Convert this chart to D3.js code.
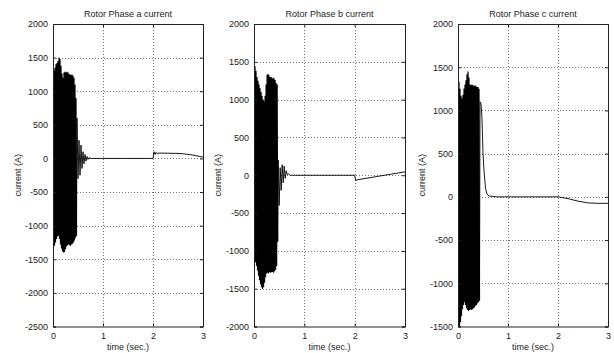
<!DOCTYPE html>
<html>
<head>
<meta charset="utf-8">
<script src="https://cdn.jsdelivr.net/npm/d3@7"></script>
<style>
  body { margin: 0; background: #fff; }
  svg { display: block; font-family: "Liberation Sans", Arial, sans-serif; }
</style>
</head>
<body>
<svg id="chart" width="614" height="353"></svg>
<script>
// ---- data ----
const titles = ['Rotor Phase a current', 'Rotor Phase b current', 'Rotor Phase c current'];
const xTicks = [0, 1, 2, 3];
const yTicksA = [-2500, -2000, -1500, -1000, -500, 0, 500, 1000, 1500, 2000];
const yTicksB = [-2000, -1500, -1000, -500, 0, 500, 1000, 1500, 2000];
const yTicksC = [-1500, -1000, -500, 0, 500, 1000, 1500, 2000];

// start-up burst: successive peaks, one every burstStep seconds
const burstStep = 0.01;
const burstA = [
  1200, -1320, 1300, -1300, 1350, -1250, 1400, -1200, 1420, -1160,
  1450, -1150, 1500, -1200, 1480, -1280, 1380, -1340, 1260, -1380,
  1200, -1400, 1280, -1390, 1290, -1350, 1280, -1310, 1290, -1290,
  1280, -1280, 1260, -1290, 1250, -1300, 1240, -1280, 1250, -1270,
  1230, -1250, 1200, -1220, 1100, -1180, 900, -1150,
];
const burstB = [
  1480, -1090, 1440, -1150, 1380, -1200, 1300, -1260, 1250, -1330,
  1200, -1390, 1150, -1440, 1100, -1480, 1050, -1500, 1000, -1480,
  980, -1420, 1050, -1350, 1200, -1300, 1330, -1290, 1340, -1300,
  1320, -1280, 1300, -1290, 1300, -1280, 1280, -1280, 1290, -1290,
  1280, -1270, 1260, -1250, 1220, -1200, 1200, -880,
];
const burstC = [
  1350, -1260, 1330, -1510, 1250, -1450, 1170, -1380, 1140, -1300,
  1180, -1250, 1250, -1220, 1300, -1250, 1350, -1290, 1420, -1310,
  1450, -1320, 1380, -1310, 1300, -1300, 1290, -1310, 1300, -1300,
  1290, -1290, 1280, -1280, 1290, -1260, 1280, -1250, 1270, -1230,
  1270, -1220, 1250, -1200,
];

// what follows the burst: [time (s), current (A)]
const tailA = [
  [0.47, -1150], [0.48, 600], [0.50, -300], [0.52, 270], [0.54, -250], [0.56, 200],
  [0.58, -150], [0.60, 100], [0.62, -80], [0.64, 60], [0.66, -40], [0.68, 30],
  [0.70, -15], [0.72, 10], [0.76, 0], [2.00, 0], [2.02, 100], [2.04, 60],
  [2.06, 90], [2.08, 70], [2.10, 80], [2.50, 75], [2.60, 70], [2.80, 50], [3.00, 20],
];
const tailB = [
  [0.47, -880], [0.48, 200], [0.50, -400], [0.52, 100], [0.54, -200], [0.56, 140],
  [0.58, -100], [0.60, 120], [0.62, -40], [0.64, 60], [0.66, 10], [0.68, 20],
  [0.72, 0], [2.00, 0], [2.02, -70], [2.05, -60], [3.00, 45],
];
const tailC = [
  [0.43, -1200], [0.44, 1100], [0.46, 1080], [0.48, 900], [0.50, 500], [0.52, 300],
  [0.55, 100], [0.58, 30], [0.62, 10], [0.70, 5], [0.80, 0], [2.00, 0],
  [2.20, -20], [2.40, -50], [2.60, -70], [2.80, -75], [3.00, -75],
];

// ---- layout ----
const plotTop = 24, plotBottom = 326.5;
const panels = [
  { x0: 53, x1: 203, yLab: 18, ticks: yTicksA, burst: burstA, tail: tailA },
  { x0: 254, x1: 405, yLab: 218, ticks: yTicksB, burst: burstB, tail: tailB },
  { x0: 458, x1: 608, yLab: 422, ticks: yTicksC, burst: burstC, tail: tailC },
];

const svg = d3.select('#chart');
svg.append('rect').attr('width', 614).attr('height', 353).attr('fill', '#fff');

panels.forEach((p, i) => {
  const x = d3.scaleLinear().domain([0, 3]).range([p.x0, p.x1]);
  const y = d3.scaleLinear()
    .domain(d3.extent(p.ticks))
    .range([plotBottom, plotTop]);
  const g = svg.append('g');

  // Grid (dotted)
  g.selectAll('.gx')
    .data(xTicks.slice(1, -1))
    .enter()
    .append('line')
    .attr('x1', (d) => Math.round(x(d)) + 0.5)
    .attr('x2', (d) => Math.round(x(d)) + 0.5)
    .attr('y1', plotTop)
    .attr('y2', plotBottom)
    .attr('stroke', '#707070')
    .attr('stroke-dasharray', '1,2');
  g.selectAll('.gy')
    .data(p.ticks.slice(1, -1))
    .enter()
    .append('line')
    .attr('x1', p.x0)
    .attr('x2', p.x1)
    .attr('y1', (d) => Math.round(y(d)) + 0.5)
    .attr('y2', (d) => Math.round(y(d)) + 0.5)
    .attr('stroke', '#707070')
    .attr('stroke-dasharray', '1,2');

  // Data
  const clipId = 'clip' + i;
  svg.append('clipPath').attr('id', clipId)
    .append('rect')
    .attr('x', p.x0).attr('y', plotTop)
    .attr('width', p.x1 - p.x0).attr('height', plotBottom - plotTop);

  const line = d3.line()
    .x((d) => x(d[0]))
    .y((d) => y(d[1]));

  // burst drawn a little heavier so it fills solid, tail thin
  g.append('path')
    .attr('clip-path', `url(#${clipId})`)
    .attr('d', line(p.burst.map((v, k) => [k * burstStep, v])))
    .attr('fill', 'none')
    .attr('stroke', '#000')
    .attr('stroke-width', 1.2);
  g.append('path')
    .attr('clip-path', `url(#${clipId})`)
    .attr('d', line(p.tail))
    .attr('fill', 'none')
    .attr('stroke', '#000')
    .attr('stroke-width', 0.9);

  // Axes: MATLAB-like box with inward ticks, plain hyphen minus
  const fmt = (d) => String(d);
  const axB = d3.axisBottom(x).tickValues(xTicks).tickSize(-3).tickPadding(6).tickFormat(fmt);
  const axT = d3.axisTop(x).tickValues(xTicks).tickSize(-3).tickFormat('');
  const axL = d3.axisLeft(y).tickValues(p.ticks).tickSize(-3).tickPadding(5).tickFormat(fmt);
  const axR = d3.axisRight(y).tickValues(p.ticks).tickSize(-3).tickFormat('');

  [[axB, `translate(0,${plotBottom})`], [axT, `translate(0,${plotTop})`],
   [axL, `translate(${p.x0},0)`], [axR, `translate(${p.x1},0)`]].forEach(([ax, tr]) => {
    const a = g.append('g').attr('transform', tr).call(ax);
    a.select('.domain').attr('stroke', '#222');
    a.selectAll('.tick line').attr('stroke', '#222');
    a.selectAll('text')
      .attr('fill', '#222')
      .style('font-size', '9px')
      .style('font-family', '"Liberation Sans", Arial, sans-serif');
  });

  // Title and labels
  g.append('text')
    .attr('x', (p.x0 + p.x1) / 2)
    .attr('y', 17)
    .attr('text-anchor', 'middle')
    .style('font-size', '9px')
    .attr('fill', '#222')
    .text(titles[i]);

  g.append('text')
    .attr('x', (p.x0 + p.x1) / 2)
    .attr('y', 350)
    .attr('text-anchor', 'middle')
    .style('font-size', '9px')
    .attr('fill', '#222')
    .text('time (sec.)');

  g.append('text')
    .attr('transform', `translate(${p.yLab + 3},${(plotTop + plotBottom) / 2}) rotate(-90)`)
    .attr('text-anchor', 'middle')
    .style('font-size', '9px')
    .attr('fill', '#222')
    .text('current (A)');
});
</script>
</body>
</html>
